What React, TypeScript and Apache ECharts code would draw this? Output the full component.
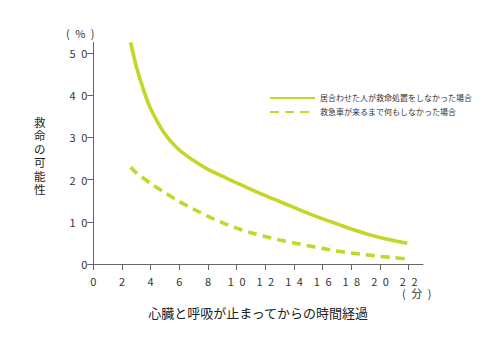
import React, { useEffect, useRef } from "react";
import * as echarts from "echarts";

const xTicks = [0, 2, 4, 6, 8, 10, 12, 14, 16, 18, 20, 22];
const yTicks = [0, 10, 20, 30, 40, 50];

const seriesNames = [
  "居合わせた人が救命処置をしなかった場合",
  "救急車が来るまで何もしなかった場合",
];

const solidData: [number, number][] = [
  [2.6, 52.5], [3, 46.8], [3.5, 41.3], [4, 36.8], [5, 30.8], [6, 27.0],
  [7, 24.5], [8, 22.4], [9, 20.8], [10, 19.2], [11, 17.7], [12, 16.2],
  [13, 14.8], [14, 13.4], [15, 12.0], [16, 10.7], [17, 9.5], [18, 8.3],
  [19, 7.2], [20, 6.3], [21, 5.5], [21.9, 4.9],
];

const dashedData: [number, number][] = [
  [2.6, 22.9], [3, 21.6], [4, 19.1], [5, 16.9], [6, 14.8], [7, 13.0],
  [8, 11.3], [9, 9.8], [10, 8.5], [11, 7.4], [12, 6.5], [13, 5.7],
  [14, 5.0], [15, 4.3], [16, 3.7], [17, 3.1], [18, 2.6], [19, 2.2],
  [20, 1.8], [21, 1.5], [21.9, 1.2],
];

const SP = "\u2002";
const spaced = (v: number) => String(v).split("").join(SP);

export default function App() {
  const ref = useRef<HTMLDivElement>(null);
  useEffect(() => {
    document.body.style.margin = "0";
    if (!ref.current) return;
    const chart = echarts.init(ref.current, undefined, { renderer: "svg" });
    const green = "#c4d62a";
    const font = "'Noto Sans CJK JP', 'Noto Sans', sans-serif";
    const axisColor = "#666";
    chart.setOption({
      animation: false,
      backgroundColor: "#fff",
      textStyle: { fontFamily: font },
      grid: { left: 93.3, right: 77, top: 42.4, bottom: 90, containLabel: false },
      legend: {
        orient: "vertical",
        left: 264,
        top: 89,
        itemWidth: 45,
        itemHeight: 9,
        itemGap: 6,
        itemStyle: { opacity: 0 },
        textStyle: { fontSize: 8, color: "#333", fontFamily: font },
        data: seriesNames,
      },
      xAxis: {
        type: "value",
        min: 0,
        max: 23,
        interval: 1,
        name: "心臓と呼吸が止まってからの時間経過",
        nameLocation: "middle",
        nameGap: 42,
        nameTextStyle: { fontSize: 13, color: "#222", fontFamily: font },
        splitLine: { show: false },
        axisLine: { lineStyle: { color: axisColor, width: 1 } },
        axisTick: { customValues: xTicks, length: 6, lineStyle: { color: axisColor } },
        axisLabel: {
          customValues: xTicks,
          formatter: (v: number) => spaced(v),
          fontSize: 11,
          color: "#333",
          margin: 11,
          fontFamily: font,
        },
      },
      yAxis: {
        type: "value",
        min: 0,
        max: 52.5,
        interval: 2.5,
        splitLine: { show: false },
        axisLine: { show: true, lineStyle: { color: axisColor, width: 1 } },
        axisTick: { show: true, customValues: yTicks, length: 6, lineStyle: { color: axisColor } },
        axisLabel: {
          customValues: yTicks,
          formatter: (v: number) => spaced(v),
          fontSize: 11,
          color: "#333",
          margin: 6,
          fontFamily: font,
        },
      },
      graphic: [
        {
          type: "text",
          left: 66,
          top: 27,
          style: { text: "(" + SP + "%" + SP + ")", fontSize: 11, fill: "#333", fontFamily: font },
        },
        {
          type: "text",
          left: 402,
          top: 287,
          style: { text: "(" + SP + "分" + SP + ")", fontSize: 11, fill: "#333", fontFamily: font },
        },
        {
          type: "text",
          left: 34,
          top: 115,
          style: {
            text: "救\n命\nの\n可\n能\n性",
            fontSize: 11.5,
            lineHeight: 13.5,
            fill: "#222",
            fontFamily: font,
          },
        },
      ],
      series: [
        {
          name: seriesNames[0],
          type: "line",
          data: solidData,
          smooth: 0.3,
          showSymbol: false,
          symbol: "none",
          lineStyle: { color: green, width: 3.6 },
          itemStyle: { color: green },
        },
        {
          name: seriesNames[1],
          type: "line",
          data: dashedData,
          smooth: 0.3,
          showSymbol: false,
          symbol: "none",
          lineStyle: { color: green, width: 3.6, type: [9, 6] },
          itemStyle: { color: green },
        },
      ],
    });
    return () => chart.dispose();
  }, []);
  return <div ref={ref} style={{ width: 500, height: 354 }} />;
}
